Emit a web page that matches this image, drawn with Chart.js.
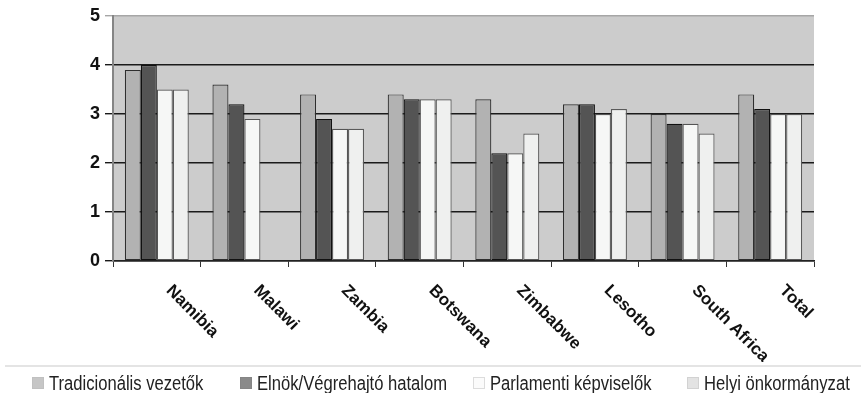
<!DOCTYPE html>
<html>
<head>
<meta charset="utf-8">
<script src="https://cdn.jsdelivr.net/npm/chart.js@4/dist/chart.umd.min.js"></script>
<style>
  html, body { margin: 0; padding: 0; background: #ffffff; }
  #wrap { width: 861px; height: 393px; position: relative; }
</style>
</head>
<body>
<div id="wrap"><canvas id="chart" width="861" height="393"></canvas></div>
<script>
// Countries on the category axis
const countries = ['Namibia', 'Malawi', 'Zambia', 'Botswana', 'Zimbabwe', 'Lesotho', 'South Africa', 'Total'];

// Series names (legend)
const seriesNames = ['Tradicionális vezetők', 'Elnök/Végrehajtó hatalom', 'Parlamenti képviselők', 'Helyi önkormányzat'];

// Average trust scores per country, one array per series
const tradicionalis = [3.9, 3.6, 3.4, 3.4, 3.3, 3.2, 3.0, 3.4];
const elnok         = [4.0, 3.2, 2.9, 3.3, 2.2, 3.2, 2.8, 3.1];
const parlamenti    = [3.5, 2.9, 2.7, 3.3, 2.2, 3.0, 2.8, 3.0];
const helyi         = [3.5, null, 2.7, 3.3, 2.6, 3.1, 2.6, 3.0];

// Value axis ticks
const yTicks = [0, 1, 2, 3, 4, 5];

const seriesValues = [tradicionalis, elnok, parlamenti, helyi];
const barFill   = ['#b2b2b2', '#545454', '#f6f7f6', '#eff0ef'];
const barBorder = ['#2e2e2e', '#111111', '#555555', '#5a5a5a'];
const swatchFill   = ['#c6c6c6', '#8a8a8a', '#fbfbfb', '#e3e3e3'];
const swatchBorder = ['#c0c0c0', '#858585', '#dcdcdc', '#d2d2d2'];
const swatchX = [32, 240, 473, 687];

// Grey plotting area behind the grid
const plotBackground = {
  id: 'plotBackground',
  beforeDraw(chart) {
    const { ctx, chartArea: a } = chart;
    ctx.save();
    ctx.fillStyle = '#cccccc';
    ctx.fillRect(a.left, a.top, a.right - a.left, a.bottom - a.top);
    ctx.restore();
  }
};

// Slanted country names under the axis, plus the legend strip
const extras = {
  id: 'extras',
  afterDraw(chart) {
    const { ctx } = chart;
    const xs = chart.scales.x;
    const labels = chart.data.labels;

    ctx.save();
    ctx.beginPath();
    ctx.rect(0, 0, chart.width, 362);
    ctx.clip();
    ctx.fillStyle = '#111111';
    ctx.font = 'bold 17px "Liberation Sans", Arial, sans-serif';
    ctx.textAlign = 'left';
    ctx.textBaseline = 'top';
    labels.forEach((lab, i) => {
      const x = xs.getPixelForValue(i);
      ctx.save();
      ctx.translate(x + 18, xs.top + 21);
      ctx.rotate(Math.PI / 4);
      ctx.fillText(lab, 0, 0);
      ctx.restore();
    });
    ctx.restore();

    // legend frame line
    ctx.save();
    ctx.strokeStyle = '#e4e4e4';
    ctx.lineWidth = 2;
    ctx.beginPath();
    ctx.moveTo(5, 366);
    ctx.lineTo(chart.width, 366);
    ctx.stroke();

    // legend entries (narrow lettering)
    ctx.font = '20px "Liberation Sans", Arial, sans-serif';
    ctx.textAlign = 'left';
    ctx.textBaseline = 'middle';
    chart.data.datasets.forEach((ds, i) => {
      const sx = swatchX[i];
      ctx.fillStyle = swatchFill[i];
      ctx.fillRect(sx, 377, 12, 12);
      ctx.strokeStyle = swatchBorder[i];
      ctx.lineWidth = 1;
      ctx.strokeRect(sx + 0.5, 377.5, 11, 11);
      ctx.save();
      ctx.translate(sx + 17, 384);
      ctx.scale(0.83, 1);
      ctx.fillStyle = '#222222';
      ctx.fillText(ds.label, 0, 0);
      ctx.restore();
    });
    ctx.restore();
  }
};

const datasets = seriesNames.map((name, i) => ({
  label: name,
  data: seriesValues[i],
  backgroundColor: barFill[i],
  borderColor: barBorder[i],
  borderWidth: 1.2,
  borderSkipped: false,
  barPercentage: 1.0,
  categoryPercentage: 0.73
}));

new Chart(document.getElementById('chart'), {
  type: 'bar',
  data: { labels: countries, datasets },
  options: {
    responsive: false,
    devicePixelRatio: 1,
    animation: false,
    layout: { padding: { top: 16, right: 47, bottom: 0, left: 0 } },
    plugins: {
      legend: { display: false },
      tooltip: { enabled: false }
    },
    scales: {
      x: {
        type: 'category',
        afterFit(scale) { scale.height = 132; },
        ticks: { display: false },
        grid: {
          offset: true,
          drawOnChartArea: false,
          drawTicks: true,
          tickLength: 6,
          color: '#333333',
          lineWidth: 1
        },
        border: { display: true, color: '#222222', width: 1.5 }
      },
      y: {
        min: yTicks[0],
        max: yTicks[yTicks.length - 1],
        afterFit(scale) { scale.width = 113; },
        afterBuildTicks(scale) { scale.ticks = yTicks.map(v => ({ value: v })); },
        ticks: {
          padding: 5,
          color: '#111111',
          font: { family: '"Liberation Sans", Arial, sans-serif', size: 18, weight: 'bold' }
        },
        grid: {
          drawTicks: true,
          tickLength: 8,
          lineWidth: 1.4,
          color: ctx => (ctx.tick && ctx.tick.value === 5) ? '#a6a6a6' : '#1a1a1a'
        },
        border: { display: true, color: '#858585', width: 2 }
      }
    }
  },
  plugins: [plotBackground, extras]
});
</script>
</body>
</html>
